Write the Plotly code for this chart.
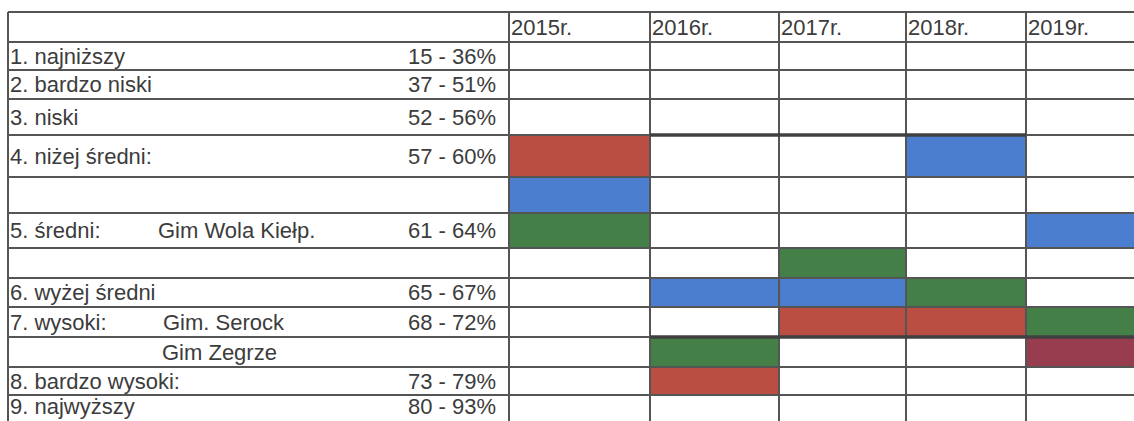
import plotly.graph_objects as go

# ---------------- data ----------------
years = ["2015r.", "2016r.", "2017r.", "2018r.", "2019r."]
row_labels = ["1. najniższy", "2. bardzo niski", "3. niski", "4. niżej średni:", "",
              "5. średni:", "", "6. wyżej średni", "7. wysoki:", "", "8. bardzo wysoki:",
              "9. najwyższy"]
school_labels = ["", "", "", "", "", "Gim Wola Kiełp.", "", "", "Gim. Serock",
                 "Gim Zegrze", "", ""]
ranges = ["15 - 36%", "37 - 51%", "52 - 56%", "57 - 60%", "", "61 - 64%", "",
          "65 - 67%", "68 - 72%", "", "73 - 79%", "80 - 93%"]

# row index (into row_labels) of each coloured cell, per year
red_rows = [3, 10, 8, 8, 9]
red_codes = [1, 1, 1, 1, 4]          # 2019 cell is the darker maroon shade
blue_rows = [4, 7, 7, 3, 5]
green_rows = [5, 9, 6, 7, 8]

# ---------------- layout constants ----------------
W, H = 1134, 421
top = 12
row_edges = [42, 70, 99, 135, 177, 213, 248, 278, 307, 337, 367, 395, 424]
col_edges = [8, 509, 650, 779, 906, 1026, 1150]
school_x = [0, 0, 0, 0, 0, 158, 0, 0, 163, 162, 0, 0]

RED, BLUE, GREEN, MAROON = "#bb4e43", "#4c7ed0", "#437f46", "#983d50"
LINE = "#555555"
TEXT = "#3c3c3c"
FONT = "Liberation Sans, Arial, sans-serif"

# z matrix: 0 white, 1 red, 2 blue, 3 green, 4 maroon
nrows, ncols = len(row_labels), len(years)
z = [[0] * ncols for _ in range(nrows)]
for j in range(ncols):
    z[red_rows[j]][j] = red_codes[j]
    z[blue_rows[j]][j] = 2
    z[green_rows[j]][j] = 3

cs = [[0, "white"], [0.125, "white"], [0.125, RED], [0.375, RED],
      [0.375, BLUE], [0.625, BLUE], [0.625, GREEN], [0.875, GREEN],
      [0.875, MAROON], [1, MAROON]]

fig = go.Figure()
fig.add_trace(go.Heatmap(z=z, x=col_edges[1:], y=row_edges, zmin=0, zmax=4,
                         colorscale=cs, showscale=False, hoverinfo="skip"))

# grid lines
gx, gy = [], []
for y in [top] + row_edges:
    gx += [col_edges[0], col_edges[-1], None]
    gy += [y, y, None]
for x in col_edges:
    gx += [x, x, None]
    gy += [top, row_edges[-1], None]
fig.add_trace(go.Scatter(x=gx, y=gy, mode="lines", line=dict(color=LINE, width=2),
                         hoverinfo="skip", showlegend=False))
# thicker borders
tx = [col_edges[2], col_edges[5], None, col_edges[2], col_edges[6]]
ty = [row_edges[3], row_edges[3], None, row_edges[9], row_edges[9]]
fig.add_trace(go.Scatter(x=tx, y=ty, mode="lines", line=dict(color="#404040", width=3.5),
                         hoverinfo="skip", showlegend=False))

centers = [(row_edges[i] + row_edges[i + 1]) / 2 + 2 for i in range(nrows)]
centers[-1] = row_edges[-2] + 13
fsize = 22

# row labels
fig.add_trace(go.Scatter(x=[col_edges[0] + 2] * nrows, y=centers, text=row_labels,
                         mode="text", textposition="middle right",
                         textfont=dict(family=FONT, size=fsize, color=TEXT),
                         hoverinfo="skip", showlegend=False))
sx = [school_x[i] for i in range(nrows) if school_labels[i]]
sy = [centers[i] for i in range(nrows) if school_labels[i]]
st = [s for s in school_labels if s]
fig.add_trace(go.Scatter(x=sx, y=sy, text=st, mode="text", textposition="middle right",
                         textfont=dict(family=FONT, size=fsize, color=TEXT),
                         hoverinfo="skip", showlegend=False))
fig.add_trace(go.Scatter(x=[col_edges[1] - 13] * nrows, y=centers, text=ranges,
                         mode="text", textposition="middle left",
                         textfont=dict(family=FONT, size=fsize, color=TEXT),
                         hoverinfo="skip", showlegend=False))
# year headers
fig.add_trace(go.Scatter(x=[c + 2 for c in col_edges[1:-1]],
                         y=[(top + row_edges[0]) / 2 + 2] * ncols,
                         text=years, mode="text", textposition="middle right",
                         textfont=dict(family=FONT, size=22, color=TEXT),
                         hoverinfo="skip", showlegend=False))

fig.update_layout(width=W, height=H, margin=dict(l=0, r=0, t=0, b=0),
                  paper_bgcolor="white", plot_bgcolor="white", showlegend=False,
                  xaxis=dict(range=[0, W], visible=False, fixedrange=True),
                  yaxis=dict(range=[H, 0], visible=False, fixedrange=True))
fig.write_html("out.html", config={"displayModeBar": False},
               post_script="document.body.style.margin='0';document.body.style.overflow='hidden';")
